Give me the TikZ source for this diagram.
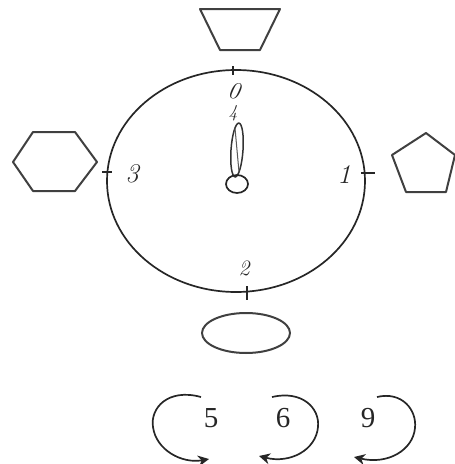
\documentclass[tikz,border=0pt]{standalone}
\usepackage{fontspec}
\newfontfamily\timesfont{Liberation Serif}
\usetikzlibrary{arrows.meta}
\tikzset{
  shapeline/.style={draw=black!75, line width=2pt, line join=round},
  clockline/.style={draw=black!85, line width=1.7pt},
  tickline/.style={draw=black!85, line width=1.7pt},
  hand/.style={font=\itshape, inner sep=0pt, text=black!85},
  serifnum/.style={font=\timesfont\fontsize{29}{29}\selectfont, inner sep=0pt, text=black!85},
  looparrow/.style={draw=black!85, line width=1.7pt, -{Stealth[length=11pt,width=11pt]}}
}
\begin{document}
\begin{tikzpicture}[x=1pt,y=-1pt]
\useasboundingbox (0,0) rectangle (455,464);
% clock face
\draw[clockline] (236,181) ellipse [x radius=129, y radius=111];
% ticks
\coordinate (t0a) at (233,66); \coordinate (t0b) at (233,75);
\coordinate (t3a) at (102,172); \coordinate (t3b) at (112,172);
\coordinate (t1a) at (361,173); \coordinate (t1b) at (375,173);
\coordinate (t2a) at (247,286); \coordinate (t2b) at (247,300);
\draw[tickline] (t0a) -- (t0b);
\draw[tickline] (t3a) -- (t3b);
\draw[tickline] (t1a) -- (t1b);
\draw[tickline] (t2a) -- (t2b);
% hand and hub
\draw[draw=black!80, line width=1.5pt, rotate around={-4:(237,150)}] (237,150) ellipse [x radius=6, y radius=27];
\draw[draw=black!65, line width=1pt] (235,128) -- (239,172);
\draw[draw=black!85, line width=1.7pt] (237,184) ellipse [x radius=11, y radius=9];
% handwritten labels
\node[hand, font=\itshape\fontsize{24}{24}\selectfont, rotate=-10] (l0) at (234,91) {0};
\node[hand, font=\itshape\fontsize{18}{18}\selectfont] (l4) at (233,113) {4};
\node[hand, font=\itshape\fontsize{27}{27}\selectfont] (l3) at (132,174) {3};
\node[hand, font=\itshape\fontsize{27}{27}\selectfont] (l1) at (344,175) {1};
\node[hand, font=\itshape\fontsize{22}{22}\selectfont] (l2) at (244,268) {2};
% outer shapes
\draw[shapeline] (200,9) -- (280,9) -- (260,50) -- (220,50) -- cycle;
\draw[shapeline] (13,162) -- (33,132) -- (75,132) -- (97,162) -- (75,191) -- (33,191) -- cycle;
\draw[shapeline] (426,133) -- (455,155) -- (446,192) -- (406,192) -- (392,155) -- cycle;
\draw[shapeline] (246,333) ellipse [x radius=44, y radius=20];
% bottom digits with loop arrows
\node[serifnum] (n5) at (211,418) {5};
\node[serifnum] (n6) at (283,418) {6};
\node[serifnum] (n9) at (368,418) {9};
\coordinate (a5s) at (201,397); \coordinate (a5e) at (209,459);
\coordinate (a6s) at (272,397); \coordinate (a6e) at (259,456);
\coordinate (a9s) at (377,397); \coordinate (a9e) at (354,457);
\draw[looparrow] (a5s) .. controls (168,388) and (150,408) .. (153,427) .. controls (156,450) and (182,464) .. (a5e);
\draw[looparrow] (a6s) .. controls (302,390) and (320,408) .. (318,427) .. controls (316,450) and (290,464) .. (a6e);
\draw[looparrow] (a9s) .. controls (402,391) and (417,410) .. (415,428) .. controls (413,450) and (388,465) .. (a9e);
\end{tikzpicture}
\end{document}
